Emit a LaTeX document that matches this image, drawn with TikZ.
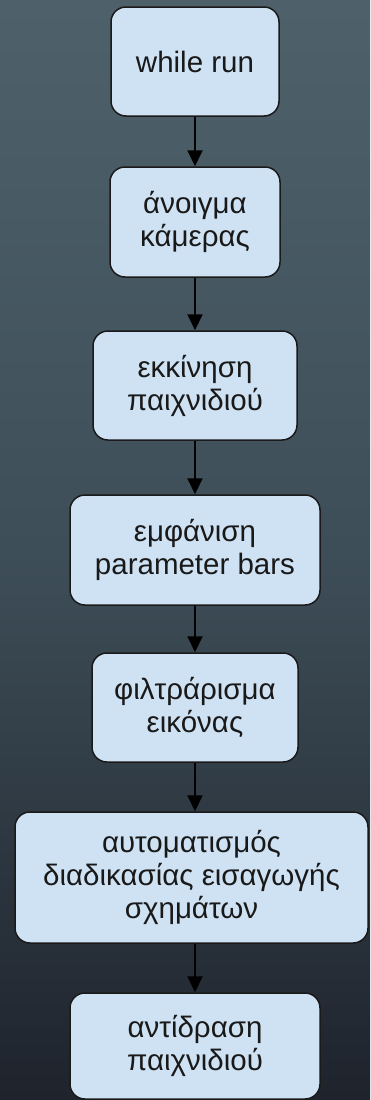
\documentclass[tikz,border=0pt]{standalone}
\usepackage{fontspec}
\setmainfont{Liberation Sans}
\usetikzlibrary{arrows.meta}
\definecolor{bgtop}{HTML}{4E616B}
\definecolor{bgmid}{HTML}{3E4E58}
\definecolor{bgbot}{HTML}{1E232C}
\definecolor{boxfill}{HTML}{CFE2F3}
\definecolor{boxline}{HTML}{1A1A1A}
\tikzset{
  stepbox/.style={draw=boxline, line width=1.5pt, fill=boxfill,
    rounded corners=15pt, align=center, inner sep=0pt,
    font=\fontsize{29.5}{33}\selectfont, text=black!90},
  flow/.style={line width=2pt, draw=black,
    -{Triangle[width=15pt,length=16pt]}}
}
\begin{document}
\begin{tikzpicture}[x=1pt,y=1pt]
  % background
  \shade[top color=bgtop, bottom color=bgbot, middle color=bgmid]
    (0,0) rectangle (370,-1100);
  \useasboundingbox (0,0) rectangle (370,-1100);

  % flow steps
  \node[stepbox, minimum width=168pt, minimum height=109pt] (b1) at (195,-61.5) {while run};
  \node[stepbox, minimum width=170pt, minimum height=110pt] (b2) at (195,-222) {άνοιγμα\\κάμερας};
  \node[stepbox, minimum width=204pt, minimum height=109pt] (b3) at (195,-385.5) {εκκίνηση\\παιχνιδιού};
  \node[stepbox, minimum width=250pt, minimum height=110pt] (b4) at (195,-550) {εμφάνιση\\parameter bars};
  \node[stepbox, minimum width=206pt, minimum height=109pt] (b5) at (195,-707.5) {φιλτράρισμα\\εικόνας};
  \node[stepbox, minimum width=353pt, minimum height=131pt] (b6) at (191.5,-877.5) {αυτοματισμός\\διαδικασίας εισαγωγής\\σχημάτων};
  \node[stepbox, minimum width=250pt, minimum height=106pt] (b7) at (195,-1046) {αντίδραση\\παιχνιδιού};

  % connectors
  \draw[flow] (b1) -- (b2);
  \draw[flow] (b2) -- (b3);
  \draw[flow] (b3) -- (b4);
  \draw[flow] (b4) -- (b5);
  \draw[flow] (b5.south) -- (b5.south |- b6.north);
  \draw[flow] (b6.south -| b7.north) -- (b7.north);
\end{tikzpicture}
\end{document}
